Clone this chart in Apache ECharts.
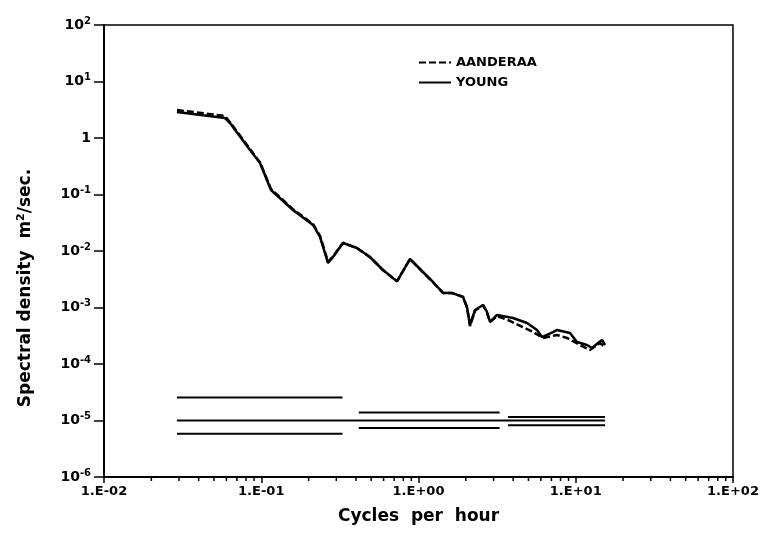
<!DOCTYPE html>
<html><head><meta charset="utf-8">
<script src="https://cdn.jsdelivr.net/npm/echarts/dist/echarts.min.js"></script>
<style>html,body{margin:0;padding:0;background:#fff}#c{width:773px;height:533px}</style>
</head><body><div id="c"></div>
<script>
// ---- data ----
const youngFreq = [0.0291,0.0588,0.0633,0.0848,0.0982,0.1153,0.1591,0.2134,0.2364,0.2658,0.286,0.3311,0.4064,0.4915,0.5943,0.730,0.883,1.068,1.236,1.432,1.633,1.919,2.034,2.126,2.288,2.572,2.727,2.849,3.157,3.99,4.898,5.67,6.10,7.17,7.60,9.19,10.18,11.79,12.69,13.85,14.69,15.35];
const youngPsd  = [2.89,2.26,1.84,0.613,0.361,0.120,0.0532,0.0289,0.0177,0.00613,0.00783,0.01385,0.0113,0.00783,0.00461,0.00290,0.00722,0.00425,0.00283,0.00181,0.00181,0.00153,0.00102,0.00049,0.000903,0.00111,0.000833,0.000554,0.000737,0.000652,0.000532,0.0004,0.0003,0.000368,0.0004,0.000354,0.000245,0.000217,0.000192,0.000235,0.000266,0.000217];
const aandFreq = [0.0291,0.0588,0.0633,0.0848,0.0982,0.1153,0.1591,0.2134,0.2364,0.2658,0.286,0.3311,0.4064,0.4915,0.5943,0.730,0.883,1.068,1.236,1.432,1.633,1.919,2.034,2.126,2.288,2.572,2.727,2.849,3.157,3.70,5.35,6.19,7.60,8.80,10.64,12.32,14.27,15.35];
const aandPsd  = [3.13,2.45,1.90,0.64,0.37,0.125,0.055,0.030,0.0185,0.0065,0.008,0.0140,0.0112,0.0078,0.0046,0.0029,0.0072,0.0042,0.0028,0.0018,0.0018,0.00155,0.00100,0.00047,0.00088,0.00110,0.00080,0.00056,0.00070,0.000601,0.000368,0.000289,0.000326,0.000289,0.000217,0.000177,0.000235,0.0002];
const ciStart = [0.0291, 0.4173, 3.71];
const ciEnd   = [0.3286, 3.28, 15.35];
const ciUpper = [2.55e-5, 1.38e-5, 1.15e-5];
const ciLower = [5.8e-6, 7.33e-6, 8.26e-6];
const refLevel = 1e-5, refStart = 0.0291, refEnd = 15.35;
const xTickLabels = ['1.E-02','1.E-01','1.E+00','1.E+01','1.E+02'];
const xMin = 0.01, xMax = 100, yMin = 1e-6, yMax = 100;

const FONT = 'DejaVu Sans';
const black = '#000';
const minorTicks = [];
for (let d = -2; d < 2; d++) for (let m = 2; m <= 9; m++) minorTicks.push([m * Math.pow(10, d)]);

const zip = (xs, ys) => xs.map((x, i) => [x, ys[i]]);
const ciSeries = [];
ciStart.forEach((s, i) => {
  ciSeries.push({type:'line', data:[[s, ciUpper[i]],[ciEnd[i], ciUpper[i]]], symbol:'none', lineStyle:{color:black,width:2}, silent:true});
  ciSeries.push({type:'line', data:[[s, ciLower[i]],[ciEnd[i], ciLower[i]]], symbol:'none', lineStyle:{color:black,width:2}, silent:true});
});
ciSeries.push({type:'line', data:[[refStart, refLevel],[refEnd, refLevel]], symbol:'none', lineStyle:{color:black,width:2}, silent:true});

const chart = echarts.init(document.getElementById('c'), null, {renderer:'canvas'});
chart.setOption({
  animation:false,
  backgroundColor:'#fff',
  grid:{left:104, right:40, top:25, bottom:56, show:true, borderColor:black, borderWidth:1.5},
  legend:{
    data:['AANDERAA','YOUNG'], orient:'vertical', left:413, top:51, itemWidth:32, itemHeight:10, itemGap:7,
    itemStyle:{opacity:0},
    textStyle:{fontFamily:FONT, fontWeight:'bold', fontSize:13, color:black}
  },
  xAxis:{
    type:'log', logBase:10, min:xMin, max:xMax, splitNumber:4,
    axisLine:{lineStyle:{color:black,width:2}},
    axisTick:{show:true, inside:false, length:6, lineStyle:{color:black,width:1.5}},
    splitLine:{show:false},
    axisLabel:{margin:8, color:black, fontFamily:FONT, fontWeight:'bold', fontSize:13,
      formatter:v => xTickLabels[Math.round(Math.log10(v)) + 2]},
    name:'Cycles  per  hour', nameLocation:'middle', nameGap:31,
    nameTextStyle:{fontFamily:FONT, fontWeight:'bold', fontSize:17, color:black}
  },
  yAxis:{
    type:'log', logBase:10, min:yMin, max:yMax, splitNumber:8,
    axisLine:{lineStyle:{color:black,width:2}},
    axisTick:{show:true, inside:false, length:10, lineStyle:{color:black,width:1.5}},
    splitLine:{show:false},
    axisLabel:{margin:13, color:black, fontFamily:FONT,
      formatter:v => { const e = Math.round(Math.log10(v)); return e === 0 ? '{b|1}' : '{b|10}{s|' + e + '}'; },
      rich:{b:{fontSize:14, fontWeight:'bold', fontFamily:FONT, color:black, lineHeight:18},
            s:{fontSize:10, fontWeight:'bold', fontFamily:FONT, color:black, verticalAlign:'top', lineHeight:18}}}
  },
  graphic:[{
    type:'text', x:26, y:288, rotation:Math.PI/2,
    style:{text:'{a|Spectral density  m}{s|2}{a|/sec.}', align:'center', verticalAlign:'middle',
      rich:{a:{fontFamily:FONT, fontWeight:'bold', fontSize:17, fill:black, lineHeight:20},
            s:{fontFamily:FONT, fontWeight:'bold', fontSize:11, fill:black, verticalAlign:'top', lineHeight:20}}}
  }],
  series:[
    {name:'AANDERAA', type:'line', data:zip(aandFreq, aandPsd), symbol:'none', lineStyle:{color:black, width:2.5, type:[7,3]}, itemStyle:{color:black}, z:3},
    {name:'YOUNG', type:'line', data:zip(youngFreq, youngPsd), symbol:'none', lineStyle:{color:black, width:2.5}, itemStyle:{color:black}, z:3},
    ...ciSeries,
    {type:'custom', data:minorTicks, silent:true, clip:false,
      renderItem:(params, api) => {
        const p = api.coord([api.value(0), yMin]);
        return {type:'line', shape:{x1:p[0], y1:p[1], x2:p[0], y2:p[1] + 4}, style:{stroke:black, lineWidth:1.5}};
      }}
  ]
});
</script></body></html>
